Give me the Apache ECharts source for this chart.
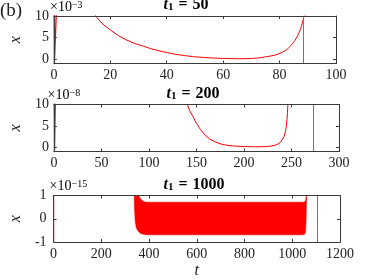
<!DOCTYPE html>
<html><head><meta charset="utf-8">
<script src="https://cdn.jsdelivr.net/npm/echarts@6/dist/echarts.min.js"></script>
<style>html,body{margin:0;padding:0;background:#fff}#c{width:374px;height:280px}</style>
</head><body><div id="c"></div>
<script>
// ---- data (x values scaled by 1e-3, 1e-8, 1e-15 respectively) ----
const titleValues = ['50', '200', '1000'];
const exponents = ['\u22123', '\u22128', '\u221215'];
const xMaxes = [100, 300, 1200];
const xIntervals = [20, 50, 200];
const yTicks12 = [0, 5, 10];
const vlineT = [88.5, 273.2, 1106.6];

const p1Spike = [[0.1, 10.6], [0.15, -1.2], [0.75, -1.2], [0.85, 10.6]];
const p1Curve = [[13.5, 12.5], [14.8, 10], [17, 8.3], [20.1, 6.7], [23, 5.4], [25.9, 4.4], [28.8, 3.6], [31.7, 3.0], [34.6, 2.4], [37.5, 1.9], [40.4, 1.5], [43.3, 1.1], [46.2, 0.85], [49.1, 0.6], [53, 0.4], [57, 0.25], [61, 0.15], [66, 0.1], [70, 0.15], [72.5, 0.28], [74.7, 0.5], [76.5, 0.7], [78.2, 0.9], [79.5, 1.2], [80.6, 1.5], [81.8, 1.9], [82.9, 2.4], [83.8, 3.0], [84.6, 3.6], [85.4, 4.3], [86.2, 5.2], [86.9, 6.1], [87.5, 7.1], [88.1, 8.5], [88.7, 10], [89, 11]];

const p2Spike = [[0.3, 10.6], [0.6, -1.2], [1.2, -1.2], [1.5, 10.6]];
const p2Curve = [[139, 11], [140.4, 10], [143, 8.5], [147, 6.9], [150, 5.6], [154, 4.2], [158, 3.1], [164, 1.9], [170, 1.2], [178, 0.6], [188, 0.3], [200, 0.15], [212, 0.1], [222.5, 0.15], [228, 0.25], [233, 0.5], [236, 0.8], [238.5, 1.2], [240, 1.5], [242, 2.4], [243.5, 3.5], [244.5, 4.8], [245.3, 6.5], [245.8, 8.2], [246.2, 10], [246.5, 11]];

const p3Spike = [[0.5, 1.3], [0.6, -1.3]];
const bandT     = [337, 339, 342, 346, 350, 356, 363, 370, 376, 383, 390, 500, 700, 900, 1040, 1048, 1053, 1056, 1058, 1060];
const bandUpper = [1.3, 1.25, 1.2, 1.15, 1.1, 1.0, 0.88, 0.79, 0.75, 0.72, 0.71, 0.71, 0.71, 0.71, 0.71, 0.71, 0.74, 0.8, 0.95, 1.2];
const bandLower = [1.3, 0.5, -0.1, -0.35, -0.46, -0.55, -0.62, -0.65, -0.67, -0.68, -0.69, -0.69, -0.69, -0.69, -0.69, -0.68, -0.65, -0.5, 0.0, 1.2];

// ---- styling ----
const FONT = "'Liberation Serif', 'DejaVu Serif', serif";
const AX = '#3a3a3a';
const TX = '#222';
const RED = '#ff0000';
const GRAY = '#777';

const grids = [
  {left: 49, top: 16, width: 287, height: 47.5},
  {left: 46.6, top: 104.5, width: 292.4, height: 47},
  {left: 48.6, top: 195.5, width: 291.4, height: 47.5}
];
const yRanges = [[-1, 10], [-1, 10], [-1, 1]];
const yNameGaps = [25, 23, 19];

const xAxes = [], yAxes = [];
grids.forEach((g, i) => {
  const base = {gridIndex: i, type: 'value', min: 0, max: xMaxes[i], interval: xIntervals[i],
    splitLine: {show: false}, z: 5,
    axisLine: {show: true, onZero: false, lineStyle: {color: AX, width: 1}},
    axisTick: {show: true, inside: true, length: 3, lineStyle: {color: AX}}};
  xAxes.push(Object.assign({}, base, {position: 'bottom',
    axisLabel: {color: TX, fontFamily: FONT, fontSize: 14, margin: 5, formatter: v => String(v)},
    name: i === 2 ? 't' : '', nameLocation: 'middle', nameGap: 21,
    nameTextStyle: {fontFamily: FONT, fontStyle: 'italic', fontSize: 16, color: TX}}));
  xAxes.push(Object.assign({}, base, {position: 'top', axisLabel: {show: false}}));
  const yb = {gridIndex: i, type: 'value', min: yRanges[i][0], max: yRanges[i][1],
    splitLine: {show: false}, z: 5,
    axisLine: {show: true, onZero: false, lineStyle: {color: AX, width: 1}}};
  const tickDef = i < 2 ? {customValues: yTicks12} : {};
  if (i === 2) yb.interval = 1;
  yAxes.push(Object.assign({}, yb, {position: 'left',
    axisTick: Object.assign({show: true, inside: true, length: 3, lineStyle: {color: AX}}, tickDef),
    axisLabel: Object.assign({color: TX, fontFamily: FONT, fontSize: 14, margin: i < 2 ? 5 : 7, formatter: v => String(v)}, tickDef),
    name: 'x', nameLocation: 'middle', nameRotate: 90, nameGap: yNameGaps[i],
    nameTextStyle: {fontFamily: FONT, fontStyle: 'italic', fontSize: 16, color: TX}}));
  yAxes.push(Object.assign({}, yb, {position: 'right',
    axisTick: Object.assign({show: true, inside: true, length: 3, lineStyle: {color: AX}}, tickDef),
    axisLabel: {show: false}}));
});

function lineSeries(gi, data, extra) {
  return Object.assign({type: 'line', xAxisIndex: gi * 2, yAxisIndex: gi * 2, data: data,
    symbol: 'none', clip: true, animation: false,
    lineStyle: {color: RED, width: 1}}, extra || {});
}
function vline(i) {
  return {silent: true, symbol: ['none', 'none'], label: {show: false},
    lineStyle: {color: GRAY, width: 1, type: 'solid'}, data: [{xAxis: vlineT[i]}]};
}

const series = [
  lineSeries(0, p1Spike, {lineStyle: {color: RED, width: 1.3}}),
  lineSeries(0, p1Curve, {markLine: vline(0)}),
  lineSeries(1, p2Spike, {lineStyle: {color: RED, width: 1.3}}),
  lineSeries(1, p2Curve, {markLine: vline(1)}),
  lineSeries(2, p3Spike, {markLine: vline(2)}),
  // band of the fast oscillation between its upper and lower envelopes
  {type: 'custom', xAxisIndex: 4, yAxisIndex: 4, data: [0], animation: false, silent: true,
    renderItem: function (params, api) {
      const pts = bandT.map((t, k) => api.coord([t, bandUpper[k]]))
        .concat(bandT.map((t, k) => api.coord([t, bandLower[k]])).reverse());
      const cs = params.coordSys;
      return {type: 'group', children: [{type: 'polygon', shape: {points: pts},
        style: {fill: RED, stroke: RED, lineWidth: 0.6}}],
        clipPath: {type: 'rect', shape: {x: cs.x, y: cs.y, width: cs.width, height: cs.height}}};
    }}
];

const titleCenters = [186, 193, 194];
const graphic = [{type: 'text', left: 0, top: 2, z: 10, style: {text: '(b)', font: '19px ' + FONT, fill: TX}}];
grids.forEach((g, i) => {
  graphic.push({type: 'text', x: titleCenters[i], y: g.top - 3, z: 10,
    style: {text: '{t|t}{s|1}{e|=}{n|' + titleValues[i] + '}', align: 'center', verticalAlign: 'bottom',
      rich: {
        t: {fontFamily: FONT, fontStyle: 'italic', fontWeight: 'bold', fontSize: 16, color: TX},
        s: {fontFamily: FONT, fontWeight: 'bold', fontSize: 11, verticalAlign: 'bottom', color: TX},
        e: {fontFamily: FONT, fontWeight: 'bold', fontSize: 16, color: TX, padding: [0, 5, 0, 5]},
        n: {fontFamily: FONT, fontWeight: 'bold', fontSize: 16, color: TX}
      }}});
  graphic.push({type: 'text', x: g.left + 1, y: g.top - 2, z: 10,
    style: {text: '{a|\u00d710}{b|' + exponents[i] + '}', align: 'left', verticalAlign: 'bottom',
      rich: {
        a: {fontFamily: FONT, fontSize: 14, color: TX},
        b: {fontFamily: FONT, fontSize: 10, verticalAlign: 'top', color: TX}
      }}});
});

const chart = echarts.init(document.getElementById('c'), null, {renderer: 'canvas'});
chart.setOption({
  animation: false,
  backgroundColor: '#fff',
  grid: grids,
  xAxis: xAxes,
  yAxis: yAxes,
  series: series,
  graphic: graphic
});
</script></body></html>
